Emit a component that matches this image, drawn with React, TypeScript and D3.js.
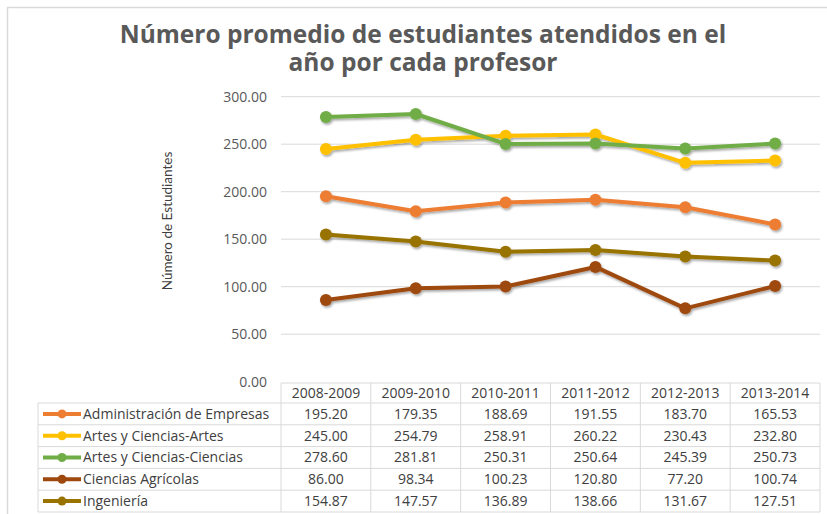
import React from "react";
import * as d3 from "d3";

const categories = ["2008-2009", "2009-2010", "2010-2011", "2011-2012", "2012-2013", "2013-2014"];
const seriesNames = [
  "Administración de Empresas",
  "Artes y Ciencias-Artes",
  "Artes y Ciencias-Ciencias",
  "Ciencias Agrícolas",
  "Ingeniería",
];
const adminValues = [195.2, 179.35, 188.69, 191.55, 183.7, 165.53];
const artesValues = [245.0, 254.79, 258.91, 260.22, 230.43, 232.8];
const cienciasValues = [278.6, 281.81, 250.31, 250.64, 245.39, 250.73];
const agricolasValues = [86.0, 98.34, 100.23, 120.8, 77.2, 100.74];
const ingenieriaValues = [154.87, 147.57, 136.89, 138.66, 131.67, 127.51];
const seriesColors = ["#ED7D31", "#FFC000", "#70AD47", "#9E480E", "#997300"];
const yTicks = [0, 50, 100, 150, 200, 250, 300];
const titleLines = ["Número promedio de estudiantes atendidos en el", "año por cada profesor"];
const yAxisTitle = "Número de Estudiantes";

const seriesValues = [adminValues, artesValues, cienciasValues, agricolasValues, ingenieriaValues];

export default function App() {
  const W = 827;
  const H = 514;
  const font = "'Open Sans', Lato, sans-serif";
  const x = d3.scaleBand<string>().domain(categories).range([281, 820]);
  const y = d3.scaleLinear().domain([0, 300]).range([381.7, 96.7]);
  const line = d3
    .line<number>()
    .x((_, i) => (x(categories[i]) as number) + x.bandwidth() / 2)
    .y((v) => y(v));

  const tableTop = 383;
  const headerH = 20;
  const rowH = 21.8;
  const tableLeft = 38;
  const tableRight = 820;
  const grid = "#D9D9D9";
  const textColor = "#404040";

  return (
    <svg width={W} height={H} style={{ position: "absolute", left: 0, top: 0, background: "#fff" }}>
      <defs>
        <filter id="shadow" x="-10%" y="-10%" width="120%" height="130%">
          <feDropShadow dx="1.2" dy="1.8" stdDeviation="1.3" floodColor="#000" floodOpacity="0.35" />
        </filter>
      </defs>
      <rect x={0} y={0} width={W} height={H} fill="#fff" />
      <path d={`M7.5,${H + 2} V7.5 H${W + 2}`} fill="none" stroke="#D9D9D9" strokeWidth={1.5} />

      <text textAnchor="middle" fontFamily={font} fontWeight="bold" fontSize={24.5} fill="#595959">
        {titleLines.map((t, i) => (
          <tspan key={i} x={423} y={43 + i * 28}>
            {t}
          </tspan>
        ))}
      </text>

      {yTicks.filter((t) => t > 0).map((t) => (
        <line key={t} x1={281} x2={820} y1={y(t)} y2={y(t)} stroke={grid} strokeWidth={1} />
      ))}
      {yTicks.map((t) => (
        <text
          key={t}
          x={267}
          y={y(t)}
          dy="0.35em"
          textAnchor="end"
          fontFamily={font}
          fontSize={14}
          fill="#595959"
        >
          {t.toFixed(2)}
        </text>
      ))}
      <text
        transform={`translate(172,221) rotate(-90)`}
        textAnchor="middle"
        fontFamily="Lato, sans-serif"
        fontSize={13.5}
        fill="#404040"
      >
        {yAxisTitle}
      </text>

      <g filter="url(#shadow)">
        {seriesValues.map((vals, si) => (
          <g key={si}>
            <path d={line(vals) || ""} fill="none" stroke={seriesColors[si]} strokeWidth={4} strokeLinejoin="round" />
            {vals.map((v, i) => (
              <circle
                key={i}
                cx={(x(categories[i]) as number) + x.bandwidth() / 2}
                cy={y(v)}
                r={6}
                fill={seriesColors[si]}
              />
            ))}
          </g>
        ))}
      </g>

      {/* data table */}
      <g fontFamily={font} fontSize={14} fill={textColor}>
        <line x1={281} x2={tableRight} y1={tableTop} y2={tableTop} stroke={grid} />
        {seriesNames.map((_, i) => (
          <line
            key={"h" + i}
            x1={tableLeft}
            x2={tableRight}
            y1={tableTop + headerH + i * rowH}
            y2={tableTop + headerH + i * rowH}
            stroke={grid}
          />
        ))}
        <line
          x1={tableLeft}
          x2={tableRight}
          y1={tableTop + headerH + seriesNames.length * rowH}
          y2={tableTop + headerH + seriesNames.length * rowH}
          stroke={grid}
        />
        <line
          x1={tableLeft}
          x2={tableLeft}
          y1={tableTop + headerH}
          y2={tableTop + headerH + seriesNames.length * rowH}
          stroke={grid}
        />
        {categories.map((c) => (
          <line
            key={"v" + c}
            x1={x(c) as number}
            x2={x(c) as number}
            y1={tableTop}
            y2={tableTop + headerH + seriesNames.length * rowH}
            stroke={grid}
          />
        ))}
        <line
          x1={tableRight}
          x2={tableRight}
          y1={tableTop}
          y2={tableTop + headerH + seriesNames.length * rowH}
          stroke={grid}
        />
        {categories.map((c) => (
          <text
            key={"c" + c}
            x={(x(c) as number) + x.bandwidth() / 2}
            y={tableTop + headerH / 2}
            dy="0.35em"
            textAnchor="middle"
          >
            {c}
          </text>
        ))}
        {seriesNames.map((name, si) => {
          const cy = tableTop + headerH + si * rowH + rowH / 2;
          return (
            <g key={"r" + name}>
              <line x1={43} x2={81} y1={cy} y2={cy} stroke={seriesColors[si]} strokeWidth={4} />
              <circle cx={62} cy={cy} r={4.5} fill={seriesColors[si]} />
              <text x={83} y={cy} dy="0.35em">
                {name}
              </text>
              {seriesValues[si].map((v, i) => (
                <text
                  key={i}
                  x={(x(categories[i]) as number) + x.bandwidth() / 2}
                  y={cy}
                  dy="0.35em"
                  textAnchor="middle"
                >
                  {v.toFixed(2)}
                </text>
              ))}
            </g>
          );
        })}
      </g>
    </svg>
  );
}
